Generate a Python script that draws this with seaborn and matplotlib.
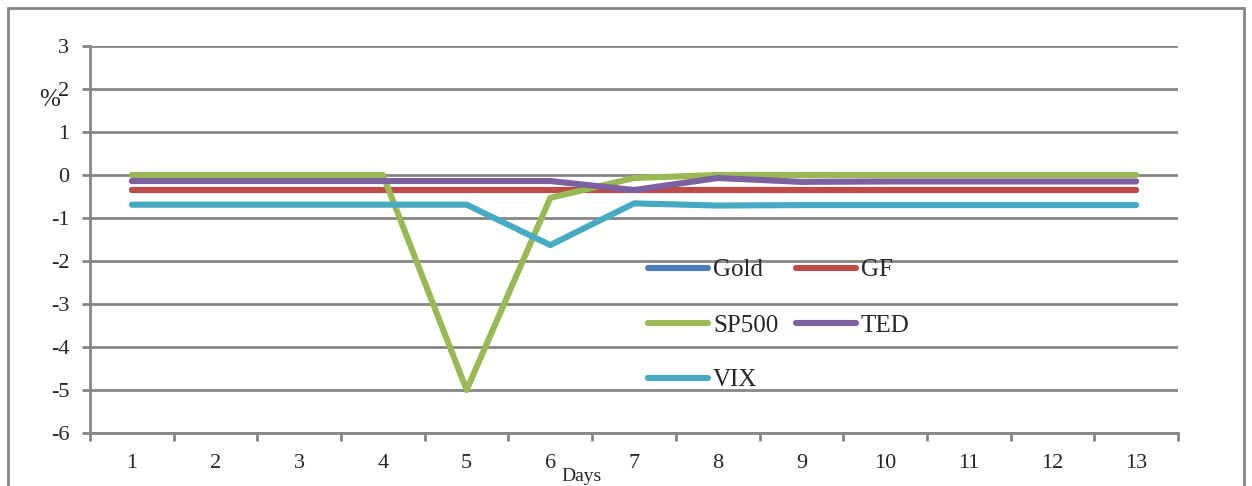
import numpy as np
import pandas as pd
import matplotlib
matplotlib.use("Agg")
import matplotlib.pyplot as plt
import seaborn as sns
from matplotlib.patches import Rectangle

days = list(range(1, 14))
gold = [-0.36, -0.36, -0.36, -0.36, -0.36, -0.36, -0.36, -0.36, -0.36, -0.36, -0.36, -0.36, -0.36]
gf = [-0.36, -0.36, -0.36, -0.36, -0.36, -0.36, -0.36, -0.36, -0.36, -0.36, -0.36, -0.36, -0.36]
sp500 = [0.0, 0.0, 0.0, 0.0, -5.0, -0.53, -0.07, 0.0, 0.0, 0.0, 0.0, 0.0, 0.0]
ted = [-0.14, -0.14, -0.14, -0.14, -0.14, -0.14, -0.35, -0.07, -0.16, -0.15, -0.15, -0.15, -0.15]
vix = [-0.69, -0.69, -0.69, -0.69, -0.69, -1.63, -0.66, -0.71, -0.70, -0.70, -0.70, -0.70, -0.70]

series = ["Gold", "GF", "SP500", "TED", "VIX"]
colors = ["#4A7EBB", "#BE4B48", "#98B954", "#7D60A0", "#46AAC5"]

df = pd.DataFrame({"Day": days, "Gold": gold, "GF": gf, "SP500": sp500, "TED": ted, "VIX": vix})
long = df.melt(id_vars="Day", var_name="Series", value_name="Value")

sns.set_style("white")
plt.rcParams['font.family'] = ['Liberation Serif', 'DejaVu Serif']
plt.rcParams['axes.unicode_minus'] = False

fig = plt.figure(figsize=(12.52, 4.86), dpi=100)
ax = fig.add_axes([90 / 1252, 1 - 433 / 486, 1088 / 1252, 387 / 486])

sns.lineplot(data=long, x="Day", y="Value", hue="Series", hue_order=series,
             palette=colors, linewidth=4.4, ax=ax, legend=False,
             solid_capstyle="round")

gray = "#868686"
ax.set_xlim(0.5, 13.5)
ax.set_ylim(-6, 3)
ax.set_yticks(np.arange(-6, 4, 1))
ax.set_xticks(days)
ax.set_xticks(np.arange(0.5, 14, 1), minor=True)
ax.yaxis.grid(True, color=gray, linewidth=2)
ax.set_axisbelow(True)
for s in ["top", "right"]:
    ax.spines[s].set_visible(False)
for s in ["left", "bottom"]:
    ax.spines[s].set_color(gray)
    ax.spines[s].set_linewidth(2)
ax.tick_params(axis="y", which="major", length=6, width=2, color=gray, left=True,
               labelsize=16, pad=9)
ax.tick_params(axis="x", which="major", length=0, labelsize=16, pad=15)
ax.tick_params(axis="x", which="minor", length=6, width=2, color=gray, bottom=True)
ax.set_xlabel("")
ax.set_ylabel("")

fig.text(582 / 1252, 1 - 485 / 486, "Days", fontsize=14, ha="center", va="bottom")
fig.text(50 / 1252, 1 - 100 / 486, "%", fontsize=18, ha="center", va="center")

# legend filled row-wise like Excel: Gold GF / SP500 TED / VIX
order = [0, 2, 4, 1, 3]
handles = [plt.Line2D([0], [0], color=colors[i], linewidth=4.4, solid_capstyle="round") for i in order]
labels = [series[i] for i in order]
fig.legend(handles, labels, loc="upper left", bbox_to_anchor=(648 / 1252, 1 - 259 / 486),
           ncol=2, frameon=False, fontsize=18, handlelength=2.4, handletextpad=0.2,
           columnspacing=0.7, labelspacing=1.3, borderpad=0, borderaxespad=0)

fig.patches.append(Rectangle((8 / 1252, -0.05), 1236 / 1252, 1 - 8 / 486 + 0.05,
                             transform=fig.transFigure, fill=False,
                             edgecolor=gray, linewidth=2))

fig.savefig("out.png", dpi=100)
